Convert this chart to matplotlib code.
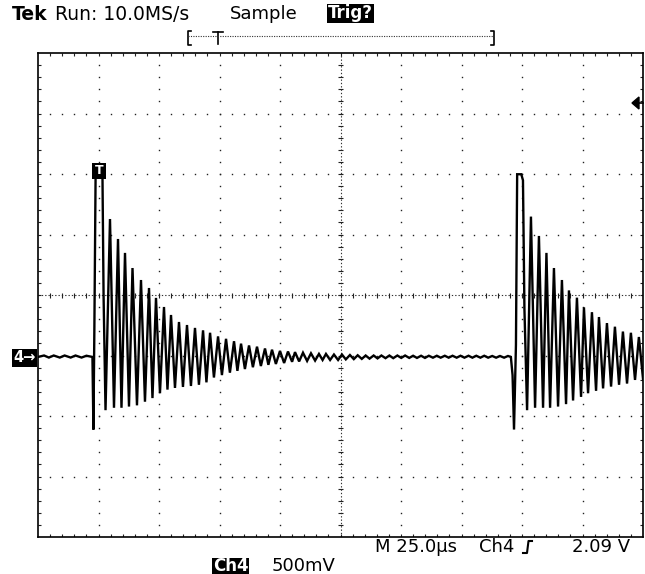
import numpy as np
import matplotlib
matplotlib.use("Agg")
import matplotlib.pyplot as plt
from matplotlib.transforms import Affine2D
from matplotlib.patches import Rectangle, Polygon
from matplotlib.lines import Line2D
from matplotlib.collections import LineCollection

# ---------------- data (time in µs from left edge, volts) ----------------
pre_t = [0, 2.5, 4.5, 6.5, 9.0, 11.0, 13.5, 15.5, 18.0, 20.0, 22.3]
pre_v = [0.0, 0.012, -0.005, 0.012, -0.005, 0.012, -0.005, 0.012, -0.005, 0.010, 0.0]

b1_lead_t = [22.5, 22.9, 23.3, 23.8, 26.65, 27.1, 27.9]
b1_lead_v = [0.0, -0.60, 0.25, 1.50, 1.48, 0.50, -0.44]

b1_peak_t = [29.75, 33.06, 35.95, 39.05, 42.56, 45.87, 48.76, 52.06, 54.96, 58.26,
             61.57, 64.87, 68.2, 71.1, 74.4, 77.7, 81.0, 83.9, 87.2, 90.5,
             93.8, 96.7, 100.0, 103.3, 106.2, 109.5, 112.8, 116.1, 119.0, 122.3, 125.6]
b1_peak_v = [1.14, 0.975, 0.86, 0.735, 0.636, 0.570, 0.488, 0.413, 0.347, 0.289,
             0.264, 0.240, 0.22, 0.20, 0.17, 0.15, 0.13, 0.11, 0.095, 0.085,
             0.07, 0.06, 0.05, 0.045, 0.04, 0.035, 0.03, 0.025, 0.025, 0.02, 0.02]
b1_trough_t = [31.4, 34.5, 37.6, 40.9, 44.2, 47.3, 50.4, 53.5, 56.6, 59.9,
               63.2, 66.5, 69.6, 72.7, 76.0, 79.3, 82.4, 85.5, 88.8, 92.1,
               95.2, 98.3, 101.7, 105.0, 107.9, 111.2, 114.5, 117.6, 120.7, 124.0]
b1_trough_v = [-0.42, -0.42, -0.41, -0.40, -0.37, -0.34, -0.30, -0.27, -0.256, -0.248,
               -0.24, -0.23, -0.21, -0.17, -0.15, -0.13, -0.115, -0.10, -0.085, -0.075,
               -0.065, -0.058, -0.05, -0.04, -0.037, -0.033, -0.03, -0.025, -0.025, -0.025]

mid_t = [127.2, 128.9, 130.5, 132.1, 133.8, 135.4, 137.0, 138.7, 140.3, 141.9,
         143.6, 145.2, 146.8, 148.5, 150.1, 151.7, 153.4, 155.0, 156.6, 158.3,
         159.9, 161.5, 163.2, 164.8, 166.4, 168.1, 169.7, 171.3, 173.0, 174.6,
         176.2, 177.9, 179.5, 181.1, 182.8, 184.4, 186.0, 187.7, 189.3, 190.9,
         192.6, 194.2, 195.4]
mid_v = [-0.02, 0.016, -0.018, 0.014, -0.016, 0.012, -0.014, 0.012, -0.012, 0.012,
         -0.010, 0.012, -0.010, 0.012, -0.008, 0.012, -0.008, 0.010, -0.008, 0.010,
         -0.008, 0.010, -0.006, 0.010, -0.006, 0.010, -0.006, 0.010, -0.006, 0.010,
         -0.006, 0.010, -0.006, 0.010, -0.006, 0.010, -0.006, 0.008, -0.006, 0.008,
         -0.006, 0.008, 0.0]

b2_lead_t = [196.1, 196.7, 197.5, 198.0, 199.7, 200.4, 201.0, 202.1]
b2_lead_v = [-0.15, -0.60, 0.10, 1.51, 1.51, 1.46, 0.40, -0.44]

b2_peak_t = [203.7, 207.0, 210.1, 213.2, 216.5, 219.4, 222.7, 225.6, 228.9, 231.8,
             235.1, 238.4, 241.7, 245.0, 248.3]
b2_peak_v = [1.16, 1.00, 0.86, 0.735, 0.636, 0.55, 0.49, 0.41, 0.37, 0.33,
             0.28, 0.25, 0.21, 0.20, 0.165]
b2_trough_t = [205.4, 208.7, 211.6, 214.9, 218.2, 221.1, 224.4, 227.3, 230.6, 233.5,
               236.8, 240.1, 243.4, 246.7, 250.0]
b2_trough_v = [-0.42, -0.42, -0.42, -0.41, -0.39, -0.36, -0.33, -0.30, -0.28, -0.26,
               -0.245, -0.23, -0.22, -0.19, -0.18]

time_per_div = 25.0   # µs
volts_per_div = 0.5   # V
ground_div = -1.024   # ground marker position (divisions from centre)

# ---------------- assemble trace ----------------
def merge(ta, va, tb, vb):
    pts = sorted(zip(list(ta) + list(tb), list(va) + list(vb)))
    return [p[0] for p in pts], [p[1] for p in pts]

b1_t, b1_v = merge(b1_peak_t, b1_peak_v, b1_trough_t, b1_trough_v)
b2_t, b2_v = merge(b2_peak_t, b2_peak_v, b2_trough_t, b2_trough_v)
trace_t = pre_t + b1_lead_t + b1_t + mid_t + b2_lead_t + b2_t
trace_v = pre_v + b1_lead_v + b1_v + mid_v + b2_lead_v + b2_v

# ---------------- figure ----------------
W, H = 645, 574
fig = plt.figure(figsize=(W / 100, H / 100), dpi=100)
fig.patch.set_facecolor("white")
PX = Affine2D().scale(1 / W, -1 / H).translate(0, 1) + fig.transFigure

L, T, R, B = 38, 53, 643, 537
ax = fig.add_axes([L / W, 1 - B / H, (R - L) / W, (B - T) / H])
ax.set_xlim(0, 10 * time_per_div)
ax.set_ylim((-4 - ground_div) * volts_per_div, (4 - ground_div) * volts_per_div)
ax.set_xticks([])
ax.set_yticks([])
for s in ax.spines.values():
    s.set_linewidth(1.2)
    s.set_color("black")

TA = ax.transAxes
# grid dots
dx, dy = [], []
for k in range(1, 10):
    if k == 5:
        continue
    for m in range(1, 40):
        dx.append(k / 10); dy.append(m / 40)
for j in range(1, 8):
    if j == 4:
        continue
    for m in range(1, 50):
        dx.append(m / 50); dy.append(j / 8)
ax.plot(dx, dy, ls="none", marker="s", ms=1.0, mew=0, color="#222", transform=TA)

# centre cross-hair
ax.plot([0.5, 0.5], [0, 1], color="#333", lw=0.8, ls=(0, (1.2, 1.8)), transform=TA)
ax.plot([0, 1], [0.5, 0.5], color="#333", lw=0.8, ls=(0, (1.2, 1.8)), transform=TA)
segs = []
hx = 2.5 / (R - L)
hy = 2.5 / (B - T)
for m in range(1, 40):
    segs.append([(0.5 - hx, m / 40), (0.5 + hx, m / 40)])
for m in range(1, 50):
    segs.append([(m / 50, 0.5 - hy), (m / 50, 0.5 + hy)])
# border ticks
tx = 3.0 / (R - L)
ty = 3.0 / (B - T)
for m in range(1, 50):
    segs.append([(m / 50, 0), (m / 50, ty)])
    segs.append([(m / 50, 1), (m / 50, 1 - ty)])
for m in range(1, 40):
    segs.append([(0, m / 40), (tx, m / 40)])
    segs.append([(1, m / 40), (1 - tx, m / 40)])
ax.add_collection(LineCollection(segs, colors="#222", linewidths=0.8, transform=TA))

# waveform
ax.plot(trace_t, trace_v, color="black", lw=1.7, solid_joinstyle="miter", zorder=5)

# ---------------- annotations ----------------
fig.text(12, 14, "Tek", transform=PX, fontsize=13.5, fontweight="bold", va="center", ha="left")
fig.text(55, 14, "Run: 10.0MS/s", transform=PX, fontsize=13.5, va="center", ha="left")
fig.text(230, 14, "Sample", transform=PX, fontsize=13, va="center", ha="left")
fig.add_artist(Rectangle((327, 4), 47, 19, transform=PX, facecolor="black", edgecolor="none"))
fig.text(350.5, 13.5, "Trig?", transform=PX, fontsize=12, fontweight="bold", color="white",
         va="center", ha="center")

# record bracket
for xs, ys in [([191, 188, 188, 191], [31, 31, 45, 45]),
               ([491, 494, 494, 491], [31, 31, 45, 45]),
               ([213, 223], [32, 32]), ([218, 218], [32, 44])]:
    fig.add_artist(Line2D(xs, ys, transform=PX, color="black", lw=1.2))
fig.add_artist(Line2D([188, 494], [36, 36], transform=PX, color="#333", lw=0.8, ls=(0, (1, 1.2))))

# ground marker
fig.add_artist(Rectangle((12, 349), 25, 18, transform=PX, facecolor="black", edgecolor="none"))
fig.text(24.5, 357.5, "4→", transform=PX, fontsize=10.5, fontweight="bold", color="white",
         va="center", ha="center")
# trigger level marker
fig.add_artist(Polygon([(632, 103), (639, 97), (639, 109)], closed=True, transform=PX,
                       facecolor="black", edgecolor="black"))
fig.add_artist(Line2D([638, 643], [103, 103], transform=PX, color="black", lw=1.2))
# trigger point marker
fig.add_artist(Rectangle((92, 163), 14, 16, transform=PX, facecolor="black", edgecolor="none"))
fig.text(99, 171, "T", transform=PX, fontsize=9, fontweight="bold", color="white",
         va="center", ha="center")

# bottom readouts
FS = 13
fig.text(375, 547, "M 25.0µs", transform=PX, fontsize=FS, va="center", ha="left")
fig.text(479, 547, "Ch4", transform=PX, fontsize=FS, va="center", ha="left")
fig.add_artist(Line2D([523, 527, 528.5, 532], [553, 553, 541, 541], transform=PX,
                      color="black", lw=1.5))
fig.text(630, 547, "2.09 V", transform=PX, fontsize=FS, va="center", ha="right")
fig.add_artist(Rectangle((212, 558), 37, 16, transform=PX, facecolor="black", edgecolor="none"))
fig.text(230.5, 566, "Ch4", transform=PX, fontsize=FS - 1, fontweight="bold", color="white",
         va="center", ha="center")
fig.text(272, 566, "500mV", transform=PX, fontsize=FS, va="center", ha="left")

fig.savefig("out.png", dpi=100, facecolor="white")
